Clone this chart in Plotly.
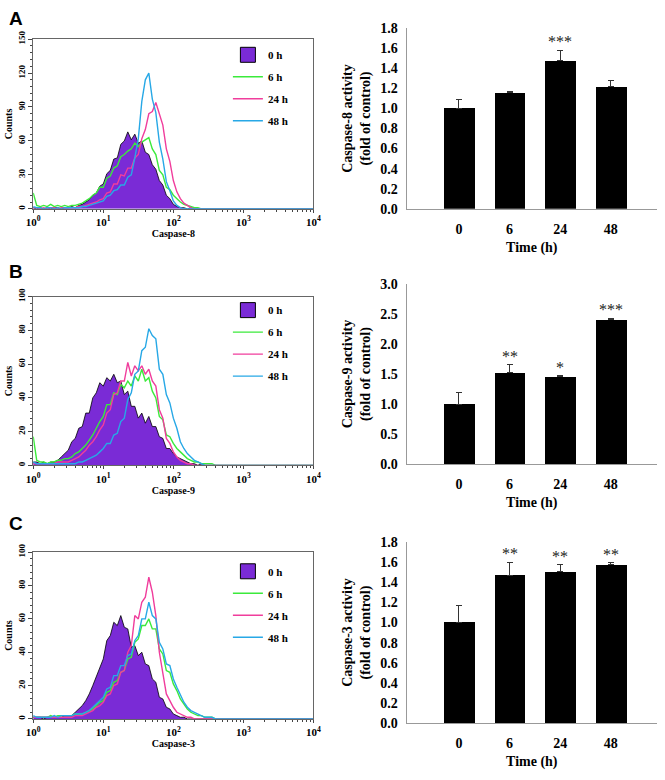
import numpy as np
import plotly.graph_objects as go

# ---------------- data ----------------
# flow-cytometry histograms: counts per log10 channel bin (0.00 .. 2.60, step 0.05); zero beyond
LOG_STEP = 0.05
log_channels = np.round(np.arange(0, 2.6001, LOG_STEP), 2)

hist_labels = ["0 h", "6 h", "24 h", "48 h"]

casp8_0h = [1,0,1,0,1,0,1,1,0,1, 1,2,1,3,4,6,8,12,14,20, 22,31,34,44,45,57,60,68,61,66,
            58,60,50,48,39,35,25,21,12,9, 4,2,1,1,0,1,0,0,0,0, 0,0,0]
casp8_6h = [14,3,2,3,2,4,2,3,2,3, 2,3,3,4,5,7,9,12,14,19, 19,27,29,36,38,46,48,51,53,58,
            55,59,61,63,53,48,34,30,19,17, 12,9,6,4,3,2,1,1,0,0, 0,0,0]
casp8_24h = [1,1,0,1,0,1,1,0,1,1, 1,1,1,2,2,3,4,5,6,8, 9,14,15,22,22,30,29,36,36,45,
             48,62,70,84,86,94,83,74,53,42, 25,15,9,5,3,1,0,0,0,0, 0,0,0]
casp8_48h = [2,1,1,0,1,1,0,1,0,1, 1,1,1,1,2,2,3,4,5,6, 7,11,12,16,17,21,21,28,30,45,
             62,95,114,120,97,85,59,44,24,16, 7,3,1,0,0,0,0,0,0,0, 0,0,0]

casp9_0h = [2,2,1,2,1,2,2,3,5,7, 9,14,16,22,23,31,31,40,43,49, 47,52,50,54,49,50,42,44,35,35,
            28,31,25,29,23,23,17,16,10,10, 7,5,4,3,2,1,1,0,1,0, 0,0,0]
casp9_6h = [17,3,2,2,1,2,2,3,3,4, 4,5,7,8,10,12,15,18,22,26, 29,36,36,43,42,48,46,50,47,53,
            50,57,50,52,44,40,29,27,18,17, 13,10,8,6,4,3,2,2,1,1, 1,1,0]
casp9_24h = [1,1,1,1,1,1,1,2,2,2, 2,3,4,5,7,9,12,14,17,21, 24,31,33,42,43,50,50,61,53,59,
             56,59,54,57,50,47,33,28,16,13, 8,5,3,2,1,1,0,0,0,0, 0,0,0]
casp9_48h = [2,1,1,1,1,1,1,1,1,1, 1,1,1,2,2,3,4,5,6,8, 10,13,13,18,19,26,28,39,43,54,
             56,68,70,81,77,75,57,54,42,37, 28,22,14,10,7,5,3,2,1,0, 0,0,0]

casp3_0h = [1,1,1,0,1,1,1,1,1,2, 2,2,4,6,8,11,15,20,25,31, 36,47,50,58,56,62,55,54,43,44,
            38,40,33,32,24,22,13,12,7,6, 3,2,1,1,0,0,0,0,0,0, 0,0,0]
casp3_6h = [1,1,1,1,1,2,1,2,2,2, 2,2,3,3,3,4,5,6,8,10, 11,16,17,22,23,28,29,36,37,46,
            48,56,56,60,54,54,42,39,29,28, 21,17,12,9,6,4,3,2,2,1, 1,1,0]
casp3_24h = [1,1,1,1,1,1,1,1,1,1, 1,1,2,2,2,3,4,5,7,8, 10,14,15,20,21,28,29,40,44,62,
             60,70,73,85,76,62,40,28,15,11, 7,4,3,2,1,1,0,0,0,0, 0,0,0]
casp3_48h = [2,1,1,1,1,1,2,1,2,2, 2,2,3,3,3,4,5,7,9,11, 13,18,19,26,26,32,32,38,39,47,
             50,60,60,70,62,60,46,42,33,32, 24,19,14,10,7,5,4,3,2,1, 1,1,0]

# caspase activity bar charts
times = ["0", "6", "24", "48"]
casp8_mean = [1.00, 1.155, 1.475, 1.215]
casp8_err = [0.09, 0.01, 0.105, 0.065]
casp8_sig = ["", "", "***", ""]
casp9_mean = [1.00, 1.525, 1.46, 2.40]
casp9_err = [0.19, 0.13, 0.01, 0.03]
casp9_sig = ["", "**", "*", "***"]
casp3_mean = [1.00, 1.47, 1.505, 1.575]
casp3_err = [0.17, 0.13, 0.07, 0.02]
casp3_sig = ["", "**", "**", "**"]

# ---------------- styling ----------------
W, H = 665, 780
SERIF = "Liberation Serif"
PURPLE = "#7A2BD6"
LINE_COLORS = ["#3BEA3B", "#F03D9C", "#27A8E6"]

# the photographed page shows the figure slightly reduced and offset; map target pixels to figure pixels
SX, SY, PAD = 665 / 681, 780 / 796, 8.0

def fx(px):
    return min(1.0, max(0.0, (px / SX - PAD) / W))

def fy(py):
    return min(1.0, max(0.0, 1 - (py / SY - PAD) / H))

def xdom(a, b):
    return [fx(a), fx(b)]

def ydom(top, bottom):
    return [fy(bottom), fy(top)]

fig = go.Figure()
x_vals = list(10 ** log_channels) + [1e4]

hist_panels = [
    ("x", "y", "legend", [casp8_0h, casp8_6h, casp8_24h, casp8_48h]),
    ("x2", "y2", "legend2", [casp9_0h, casp9_6h, casp9_24h, casp9_48h]),
    ("x3", "y3", "legend3", [casp3_0h, casp3_6h, casp3_24h, casp3_48h]),
]
for xa, ya, lg, series in hist_panels:
    fig.add_trace(go.Scatter(x=x_vals, y=list(series[0]) + [0], xaxis=xa, yaxis=ya,
                             mode="lines", line=dict(color="black", width=0.8),
                             fill="tozeroy", fillcolor=PURPLE, showlegend=False, hoverinfo="skip"))
    fig.add_trace(go.Scatter(x=[None], y=[None], xaxis=xa, yaxis=ya, mode="markers",
                             marker=dict(symbol="square", size=15, color=PURPLE,
                                         line=dict(color="black", width=1)),
                             name="<b>" + hist_labels[0] + "</b>", legend=lg,
                             legendgroup=lg + "0"))
    for k in range(1, 4):
        fig.add_trace(go.Scatter(x=x_vals, y=list(series[k]) + [0], xaxis=xa, yaxis=ya,
                                 mode="lines", line=dict(color=LINE_COLORS[k - 1], width=1.4),
                                 name="<b>" + hist_labels[k] + "</b>", legend=lg,
                                 legendgroup=lg + str(k)))

bar_panels = [
    ("x4", "y4", casp8_mean, casp8_err, casp8_sig),
    ("x5", "y5", casp9_mean, casp9_err, casp9_sig),
    ("x6", "y6", casp3_mean, casp3_err, casp3_sig),
]
annotations = []
for xa, ya, m, e, s in bar_panels:
    fig.add_trace(go.Bar(x=list(range(len(times))), y=m, xaxis=xa, yaxis=ya, width=0.61,
                         marker=dict(color="black", line=dict(width=0)), showlegend=False,
                         error_y=dict(type="data", symmetric=False, array=e,
                                      arrayminus=[0] * len(e), color="#333", thickness=1, width=3)))
    for i, txt in enumerate(s):
        if txt:
            annotations.append(dict(x=i, y=m[i] + e[i], xref=xa, yref=ya, text=txt,
                                    showarrow=False, yanchor="bottom", yshift=-2,
                                    font=dict(family=SERIF, size=16, color="#222")))

# panel letters
for letter, ypx in [("A", 17), ("B", 271), ("C", 523)]:
    annotations.append(dict(x=0, y=fy(ypx), xref="paper", yref="paper", text="<b>" + letter + "</b>",
                            showarrow=False, xanchor="left", yanchor="middle",
                            font=dict(family="Liberation Sans", size=19, color="black")))

major = [1, 10, 100, 1000, 10000]
major_txt = ["<b>10<sup>%d</sup></b>" % d for d in range(5)]
minor_vals = [m * 10 ** d for d in range(4) for m in range(2, 10)]

def hist_x(domain, anchor, title):
    return dict(type="log", range=[0, 4], domain=domain, anchor=anchor,
                tickvals=major, ticktext=major_txt, ticks="outside", ticklen=3, tickcolor="#444",
                minor=dict(tickvals=minor_vals, ticks="outside", ticklen=2, tickcolor="#444"),
                showline=True, linecolor="#666", linewidth=1, mirror=True,
                showgrid=False, zeroline=False,
                tickfont=dict(family=SERIF, size=11, color="black"),
                title=dict(text="<b>" + title + "</b>", standoff=0,
                           font=dict(family=SERIF, size=10, color="black")))

def hist_y(domain, anchor, top, dt, mdt):
    return dict(range=[0, top], domain=domain, anchor=anchor, dtick=dt, tickangle=-90,
                ticks="outside", ticklen=4, tickcolor="#444",
                minor=dict(dtick=mdt, ticks="outside", ticklen=2, tickcolor="#444"),
                showline=True, linecolor="#666", linewidth=1, mirror=True,
                showgrid=False, zeroline=False,
                tickfont=dict(family=SERIF, size=9, color="black", weight="bold"),
                title=dict(text="<b>Counts</b>", standoff=2,
                           font=dict(family=SERIF, size=10, color="black")))

def bar_x(domain, anchor):
    return dict(range=[-1.035, 3.914], domain=domain, anchor=anchor,
                tickvals=list(range(len(times))), ticktext=times,
                ticks="outside", ticklen=7, tickcolor="rgba(0,0,0,0)",
                showline=True, linecolor="#999", linewidth=1, showgrid=False, zeroline=False,
                tickfont=dict(family=SERIF, size=14, color="black", weight="bold"),
                title=dict(text="<b>Time (h)</b>", standoff=6,
                           font=dict(family=SERIF, size=14, color="black")))

def bar_y(domain, anchor, top, dt, title):
    return dict(range=[0, top], domain=domain, anchor=anchor, dtick=dt, tickformat=".1f",
                ticks="outside", ticklen=5, tickcolor="rgba(0,0,0,0)",
                showline=True, linecolor="#999", linewidth=1, showgrid=False, zeroline=False,
                tickfont=dict(family=SERIF, size=14, color="black", weight="bold"),
                title=dict(text="<b>" + title + " activity<br>(fold of control)</b>", standoff=6,
                           font=dict(family=SERIF, size=14, color="black")))

hx = xdom(34, 314)
bx = xdom(407, 662)

def legend_at(top_fig_px):
    return dict(x=226 / W, y=1 - top_fig_px / H, xanchor="left", yanchor="top",
                bgcolor="rgba(0,0,0,0)", itemwidth=30, tracegroupgap=3,
                font=dict(family=SERIF, size=11, color="black"))

fig.update_layout(
    width=W, height=H, margin=dict(l=0, r=0, t=0, b=0),
    paper_bgcolor="white", plot_bgcolor="white",
    xaxis=hist_x(hx, "y", "Caspase-8"),
    yaxis=hist_y(ydom(38, 208), "x", 150, 30, 6),
    xaxis2=hist_x(hx, "y2", "Caspase-9"),
    yaxis2=hist_y(ydom(296, 465), "x2", 100, 20, 4),
    xaxis3=hist_x(hx, "y3", "Caspase-3"),
    yaxis3=hist_y(ydom(552, 719), "x3", 100, 20, 4),
    xaxis4=bar_x(bx, "y4"),
    yaxis4=bar_y(ydom(27, 208), "x4", 1.8, 0.2, "Caspase-8"),
    xaxis5=bar_x(bx, "y5"),
    yaxis5=bar_y(ydom(283, 464), "x5", 3.0, 0.5, "Caspase-9"),
    xaxis6=bar_x(bx, "y6"),
    yaxis6=bar_y(ydom(542, 723), "x6", 1.8, 0.2, "Caspase-3"),
    legend=legend_at(32), legend2=legend_at(293), legend3=legend_at(560),
    annotations=annotations, bargap=0,
)

page_fix = (
    "document.documentElement.style.margin='0';"
    "document.body.style.margin='0';"
    "document.body.style.overflow='hidden';"
    "document.documentElement.style.overflow='hidden';"
    "var gd=document.querySelector('.plotly-graph-div');"
    "gd.style.position='fixed';gd.style.left='0px';gd.style.top='0px';"
)
fig.write_html("out.html", config={"displayModeBar": False}, post_script=page_fix)
